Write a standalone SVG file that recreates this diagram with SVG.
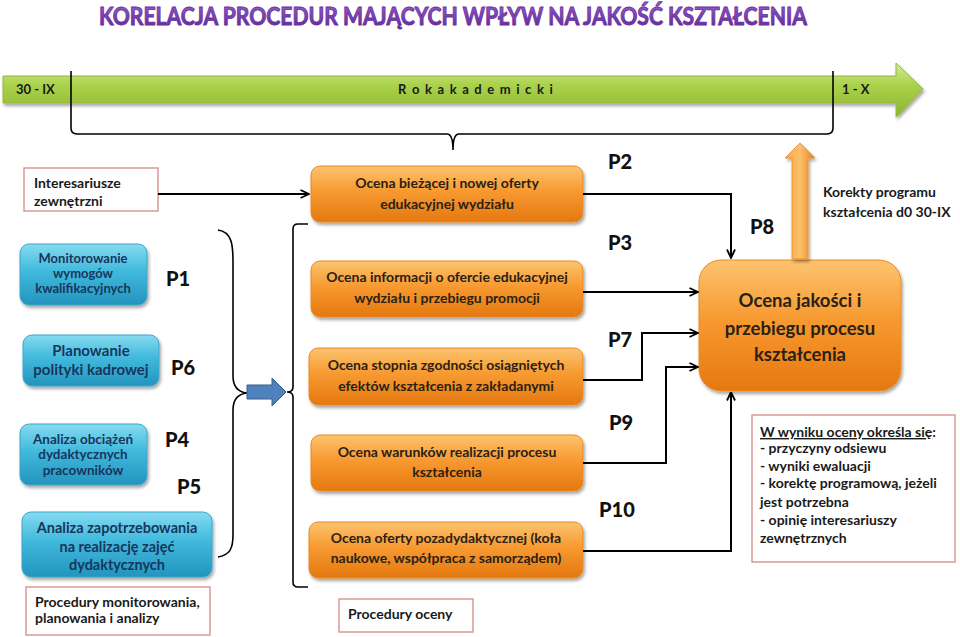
<svg xmlns="http://www.w3.org/2000/svg" width="960" height="637" viewBox="0 0 960 637">
<defs>
<linearGradient id="gOr" x1="0" y1="0" x2="0" y2="1"><stop offset="0" stop-color="#fcc46e"/><stop offset="0.45" stop-color="#f79a31"/><stop offset="1" stop-color="#e5780f"/></linearGradient>
<linearGradient id="gOrH" x1="0" y1="0" x2="1" y2="0"><stop offset="0" stop-color="#f9a646"/><stop offset="0.5" stop-color="#fcc06a"/><stop offset="1" stop-color="#e9801a"/></linearGradient>
<linearGradient id="gCy" x1="0" y1="0" x2="0" y2="1"><stop offset="0" stop-color="#85dbf0"/><stop offset="0.45" stop-color="#40b9dc"/><stop offset="1" stop-color="#2394be"/></linearGradient>
<linearGradient id="gGr" x1="0" y1="0" x2="0" y2="1"><stop offset="0" stop-color="#d3eb95"/><stop offset="0.4" stop-color="#abd24c"/><stop offset="1" stop-color="#8cb42e"/></linearGradient>
<linearGradient id="gTi" x1="0" y1="0" x2="0" y2="1"><stop offset="0" stop-color="#9a63d4"/><stop offset="1" stop-color="#5e2591"/></linearGradient>
<filter id="sh" x="-10%" y="-10%" width="125%" height="135%"><feDropShadow dx="1.5" dy="2.5" stdDeviation="1.8" flood-color="#000" flood-opacity="0.35"/></filter>
<marker id="chev" viewBox="0 0 10 10" refX="9.5" refY="5" markerWidth="10" markerHeight="10" markerUnits="userSpaceOnUse" orient="auto"><path d="M1,1 L9.5,5 L1,9" fill="none" stroke="#000" stroke-width="1.8"/></marker>
<style>
.or{fill:url(#gOr);stroke:#e88a27;stroke-width:1;filter:url(#sh)}
.cy{fill:url(#gCy);stroke:#3aa6c9;stroke-width:1;filter:url(#sh)}
.wb{fill:#fff;stroke:#d58a88;stroke-width:1.3}
.t{font-family:Lato,"Liberation Sans",sans-serif;font-weight:bold}
.ot{font-size:14px;fill:#2a2115;text-anchor:middle}
.ct{fill:#17365d;text-anchor:middle}
.p{font-size:20px;fill:#111;font-weight:900}
.bt{font-size:14px;fill:#1a1a1a}
.ln{fill:none;stroke:#000;stroke-width:2}
.br{fill:none;stroke:#000;stroke-width:1.6}
</style>
</defs>

<g id="title"><text class="t" x="99" y="25" font-size="24" font-weight="900" fill="url(#gTi)" stroke="#6a31a0" stroke-width="0.9" textLength="708" lengthAdjust="spacingAndGlyphs">KORELACJA PROCEDUR MAJĄCYCH WPŁYW NA JAKOŚĆ KSZTAŁCENIA</text></g>

<g id="timeline">
<polygon points="3,76 896,76 896,63 923,89 896,117 896,103 3,103" fill="url(#gGr)" stroke="#93b83c" stroke-width="1" filter="url(#sh)"/>
<text class="t" x="16" y="94" font-size="13" fill="#1a1a1a">30 - IX</text>
<text class="t" x="476" y="94" font-size="13" fill="#1a1a1a" text-anchor="middle" letter-spacing="1.2">R o k a k a d e m i c k i</text>
<text class="t" x="842" y="94" font-size="13" fill="#1a1a1a">1 - X</text>
</g>

<g id="n-interesariusze"><rect class="wb" x="24" y="168" width="134" height="43"/><text class="t bt" x="34" y="188" font-size="13.5">Interesariusze</text><text class="t bt" x="34" y="206" font-size="13.5">zewnętrzni</text></g>

<g id="n-monitorowanie"><rect class="cy" x="20" y="244" width="127" height="61" rx="9"/><text class="t ct" font-size="13" x="83" y="263">Monitorowanie</text><text class="t ct" font-size="13" x="83" y="278">wymogów</text><text class="t ct" font-size="13" x="83" y="293">kwalifikacyjnych</text></g>
<g id="n-planowanie"><rect class="cy" x="23" y="335" width="136" height="51" rx="9"/><text class="t ct" font-size="15" x="91" y="356">Planowanie</text><text class="t ct" font-size="15" x="91" y="375">polityki kadrowej</text></g>
<g id="n-obciazen"><rect class="cy" x="20" y="424" width="127" height="61" rx="9"/><text class="t ct" font-size="13.5" x="83" y="444">Analiza obciążeń</text><text class="t ct" font-size="13.5" x="83" y="459">dydaktycznych</text><text class="t ct" font-size="13.5" x="83" y="475">pracowników</text></g>
<g id="n-zapotrzebowanie"><rect class="cy" x="22" y="512" width="190" height="65" rx="9"/><text class="t ct" font-size="14.5" x="117" y="533">Analiza zapotrzebowania</text><text class="t ct" font-size="14.5" x="117" y="552">na realizację zajęć</text><text class="t ct" font-size="14.5" x="117" y="570">dydaktycznych</text></g>
<g id="n-procmon"><rect class="wb" x="26" y="587" width="184" height="48"/><text class="t bt" x="35" y="607" font-size="14.5">Procedury monitorowania,</text><text class="t bt" x="35" y="623" font-size="14.5">planowania i analizy</text></g>

<g id="labels-left">
<text class="t p" x="166" y="286">P1</text>
<text class="t p" x="171" y="375">P6</text>
<text class="t p" x="165" y="447">P4</text>
<text class="t p" x="177" y="494">P5</text>
</g>

<g id="n-o1"><rect class="or" x="311" y="166" width="272" height="56" rx="9"/><text class="t ot" x="447" y="188">Ocena bieżącej i nowej oferty</text><text class="t ot" x="447" y="209">edukacyjnej wydziału</text></g>
<g id="n-o2"><rect class="or" x="311" y="261" width="272" height="56" rx="9"/><text class="t ot" x="447" y="282">Ocena informacji o ofercie edukacyjnej</text><text class="t ot" x="447" y="303">wydziału i przebiegu promocji</text></g>
<g id="n-o3"><rect class="or" x="309" y="348" width="274" height="57" rx="9"/><text class="t ot" x="446" y="370">Ocena stopnia zgodności osiągniętych</text><text class="t ot" x="446" y="391">efektów kształcenia z zakładanymi</text></g>
<g id="n-o4"><rect class="or" x="311" y="435" width="272" height="56" rx="9"/><text class="t ot" x="447" y="457">Ocena warunków realizacji procesu</text><text class="t ot" x="447" y="477">kształcenia</text></g>
<g id="n-o5"><rect class="or" x="309" y="522" width="274" height="56" rx="9"/><text class="t ot" x="446" y="543">Ocena oferty pozadydaktycznej (koła</text><text class="t ot" x="446" y="563">naukowe, współpraca z samorządem)</text></g>
<g id="n-prococ"><rect class="wb" x="339" y="599" width="134" height="33"/><text class="t bt" x="348" y="619" font-size="14.5">Procedury oceny</text></g>

<g id="labels-mid">
<text class="t p" x="608" y="169">P2</text>
<text class="t p" x="608" y="250">P3</text>
<text class="t p" x="608" y="347">P7</text>
<text class="t p" x="609" y="430">P9</text>
<text class="t p" x="599" y="517">P10</text>
<text class="t p" x="750" y="234">P8</text>
</g>

<g id="n-ocena"><rect class="or" x="699" y="260" width="202" height="131" rx="22"/><text class="t" font-size="18.5" fill="#2a2115" text-anchor="middle" x="800" y="307">Ocena jakości i</text><text class="t" font-size="18.5" fill="#2a2115" text-anchor="middle" x="800" y="335">przebiegu procesu</text><text class="t" font-size="18.5" fill="#2a2115" text-anchor="middle" x="800" y="361">kształcenia</text></g>

<g id="n-korekty"><polygon points="792,259 792,158 785,158 800,143 815,158 808,158 808,259" fill="url(#gOrH)" stroke="#e88a27" stroke-width="0.8" filter="url(#sh)"/><text class="t bt" x="823" y="197" font-size="13.5">Korekty programu</text><text class="t bt" x="823" y="217" font-size="13.5">kształcenia d0 30-IX</text></g>

<g id="n-wynik"><rect class="wb" x="752" y="415" width="203" height="147"/>
<text class="t bt" x="760" y="437"><tspan text-decoration="underline">W wyniku oceny określa się</tspan>:</text>
<text class="t bt" x="760" y="453">- przyczyny odsiewu</text>
<text class="t bt" x="760" y="471">- wyniki ewaluacji</text>
<text class="t bt" x="760" y="488">- korektę programową, jeżeli</text>
<text class="t bt" x="760" y="507">jest potrzebna</text>
<text class="t bt" x="760" y="525">- opinię interesariuszy</text>
<text class="t bt" x="760" y="543">zewnętrznych</text>
</g>

<g id="connectors">
<path class="br" d="M71,71 V128 Q71,134 77,134 H447 Q453,134 453,150 Q453,134 459,134 H827 Q833,134 833,128 V71"/>
<path class="br" d="M218,230 C232,232 233,245 233,262 L233,376 C233,387 238,392 247,393 C238,394 233,399 233,410 L233,535 C233,550 229,555 218,557"/>
<path class="br" d="M308,224 H298 Q293,224 293,229 V387 Q293,392 287,392 Q293,392 293,397 V582 Q293,587 298,587 H308"/>
<polygon points="247,385 272,385 272,378 286,392 272,406 272,399 247,399" fill="#4f81bd" stroke="#385d8a" stroke-width="1"/>
<path class="ln" d="M158,194 H309" marker-end="url(#chev)"/>
<path class="ln" d="M583,194 H731 V258" marker-end="url(#chev)"/>
<path class="ln" d="M583,292 H698" marker-end="url(#chev)"/>
<path class="ln" d="M583,380 H642 V333 H698" marker-end="url(#chev)"/>
<path class="ln" d="M583,463 H666 V367 H698" marker-end="url(#chev)"/>
<path class="ln" d="M583,551 H731 V392" marker-end="url(#chev)"/>
</g>
</svg>
